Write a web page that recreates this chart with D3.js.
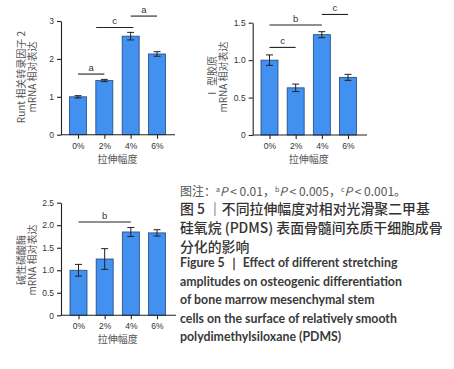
<!DOCTYPE html>
<html>
<head>
<meta charset="utf-8">
<script src="https://cdn.jsdelivr.net/npm/d3@7"></script>
<style>
  body { margin: 0; background: #fff; }
  svg { display: block; }
  .tick text { font-family: "Liberation Sans", Arial, sans-serif; font-size: 8.5px; fill: #333; }
  .tick line, .domain { stroke: #222; stroke-width: 1.1; }
</style>
</head>
<body>
<div id="chart"></div>
<script>
// values
const categories = ["0%", "2%", "4%", "6%"];

const runxMeans = [1.0, 1.43, 2.60, 2.13];
const runxErrors = [0.03, 0.03, 0.10, 0.06];
const runxTicks = [0, 1, 2, 3];
const runxBrackets = [
    {from: 0, to: 1, y: 1.60, label: "a"},
    {from: 0.69, to: 2.1, y: 2.83, label: "c"},
    {from: 2, to: 3, y: 3.13, label: "a"}
];

const col1Means = [1.0, 0.63, 1.34, 0.77];
const col1Errors = [0.07, 0.05, 0.04, 0.04];
const col1Ticks = [0, 0.5, 1.0, 1.5];
const col1Brackets = [
    {from: 0, to: 1, y: 1.17, label: "c"},
    {from: 0, to: 2, y: 1.47, label: "b"},
    {from: 2, to: 3, y: 1.61, label: "c"}
];

const alpMeans = [1.0, 1.25, 1.85, 1.83];
const alpErrors = [0.13, 0.23, 0.10, 0.07];
const alpTicks = [0, 0.5, 1.0, 1.5, 2.0, 2.5];
const alpBrackets = [
    {from: 0, to: 2, y: 2.07, label: "b"}
];

const xTitle = "拉伸幅度";

const captionNote = [
    {t: "图注：", sup: false, it: false},
    {t: "a", sup: true}, {t: "P", it: true}, {t: " < 0.01，"},
    {t: "b", sup: true}, {t: "P", it: true}, {t: " < 0.005，"},
    {t: "c", sup: true}, {t: "P", it: true}, {t: " < 0.001。"}
];
const captionZh = [
    "图 5 ｜不同拉伸幅度对相对光滑聚二甲基",
    "硅氧烷 (PDMS) 表面骨髓间充质干细胞成骨",
    "分化的影响"
];
const captionEn = [
    "Figure 5 ｜ Effect of different stretching",
    "amplitudes on osteogenic differentiation",
    "of bone marrow mesenchymal stem",
    "cells on the surface of relatively smooth",
    "polydimethylsiloxane (PDMS)"
];

const width = 454, height = 369;
const cjk = '"Noto Sans CJK SC", "Noto Sans", sans-serif';

const svg = d3.select("#chart").append("svg")
    .attr("width", width)
    .attr("height", height);

function drawPanel(opts) {
    const g = svg.append("g");

    const x = d3.scalePoint()
        .domain(categories)
        .range([opts.firstX, opts.lastX]);
    const y = d3.scaleLinear()
        .domain([0, opts.max])
        .range([opts.bottom, opts.top]);

    const barW = 17;

    // bars
    g.selectAll("rect.bar")
        .data(opts.means)
        .enter().append("rect")
        .attr("class", "bar")
        .attr("x", (d, i) => x(categories[i]) - barW / 2)
        .attr("y", d => y(d))
        .attr("width", barW)
        .attr("height", d => y(0) - y(d))
        .attr("fill", "#4290ef")
        .attr("stroke", "#23477a")
        .attr("stroke-width", 0.8);

    // error bars (upper and lower whisker)
    const capW = 7;
    const err = g.selectAll("g.err")
        .data(opts.means)
        .enter().append("g")
        .attr("class", "err")
        .attr("stroke", "#222")
        .attr("stroke-width", 1);
    err.append("line")
        .attr("x1", (d, i) => x(categories[i]))
        .attr("x2", (d, i) => x(categories[i]))
        .attr("y1", (d, i) => y(d - opts.errors[i]))
        .attr("y2", (d, i) => y(d + opts.errors[i]));
    err.append("line")
        .attr("x1", (d, i) => x(categories[i]) - capW / 2)
        .attr("x2", (d, i) => x(categories[i]) + capW / 2)
        .attr("y1", (d, i) => y(d + opts.errors[i]))
        .attr("y2", (d, i) => y(d + opts.errors[i]));
    err.append("line")
        .attr("x1", (d, i) => x(categories[i]) - capW / 2)
        .attr("x2", (d, i) => x(categories[i]) + capW / 2)
        .attr("y1", (d, i) => y(d - opts.errors[i]))
        .attr("y2", (d, i) => y(d - opts.errors[i]));

    // y axis
    const yAxis = d3.axisLeft(y)
        .tickValues(opts.ticks)
        .tickSize(4)
        .tickSizeOuter(0)
        .tickPadding(3)
        .tickFormat(opts.fmt);
    g.append("g")
        .attr("transform", `translate(${opts.axisX},0)`)
        .call(yAxis);

    // x axis
    const xAxis = d3.axisBottom(x)
        .tickSize(4)
        .tickPadding(4);
    const xg = g.append("g")
        .attr("transform", `translate(0,${opts.bottom})`)
        .call(xAxis);
    xg.select(".domain").remove();
    xg.append("line")
        .attr("x1", opts.axisX)
        .attr("x2", opts.axisEnd)
        .attr("stroke", "#222")
        .attr("stroke-width", 1.1);

    // x title
    g.append("text")
        .attr("x", (opts.firstX + opts.lastX) / 2)
        .attr("y", opts.bottom + 28)
        .attr("text-anchor", "middle")
        .attr("font-family", cjk)
        .attr("font-size", 10)
        .attr("fill", "#555")
        .text(xTitle);

    // y title (two lines, rotated)
    const yt = g.append("text")
        .attr("transform", `translate(${opts.labelX},${opts.labelY}) rotate(-90)`)
        .attr("text-anchor", "middle")
        .attr("font-family", cjk)
        .attr("font-size", 10)
        .attr("fill", "#555");
    yt.append("tspan").attr("x", 0).attr("dy", 0).text(opts.yTitle[0]);
    yt.append("tspan").attr("x", 0).attr("dy", 11).text(opts.yTitle[1]);

    // significance brackets
    const idx = d3.scaleLinear().domain([0, categories.length - 1]).range([opts.firstX, opts.lastX]);
    const br = g.selectAll("g.br")
        .data(opts.brackets)
        .enter().append("g")
        .attr("class", "br");
    br.append("line")
        .attr("x1", d => idx(d.from))
        .attr("x2", d => idx(d.to))
        .attr("y1", d => y(d.y))
        .attr("y2", d => y(d.y))
        .attr("stroke", "#222")
        .attr("stroke-width", 1.1);
    br.append("text")
        .attr("x", d => (idx(d.from) + idx(d.to)) / 2)
        .attr("y", d => y(d.y) - 3)
        .attr("text-anchor", "middle")
        .attr("font-family", "Liberation Sans, Arial, sans-serif")
        .attr("font-size", 9.5)
        .attr("fill", "#333")
        .text(d => d.label);
}

const fmt1 = d => d === 0 ? "0" : d3.format(".1f")(d);

drawPanel({
    means: runxMeans, errors: runxErrors, ticks: runxTicks, brackets: runxBrackets,
    max: 3, fmt: d3.format("d"),
    axisX: 61, axisEnd: 175, firstX: 78, lastX: 157,
    top: 21, bottom: 134.7,
    labelX: 25, labelY: 77,
    yTitle: ["Runt 相关转录因子 2", "mRNA 相对表达"]
});

drawPanel({
    means: col1Means, errors: col1Errors, ticks: col1Ticks, brackets: col1Brackets,
    max: 1.5, fmt: fmt1,
    axisX: 252.7, axisEnd: 367, firstX: 269.5, lastX: 348,
    top: 22.7, bottom: 135,
    labelX: 216, labelY: 77,
    yTitle: ["Ⅰ 型胶原", "mRNA 相对表达"]
});

drawPanel({
    means: alpMeans, errors: alpErrors, ticks: alpTicks, brackets: alpBrackets,
    max: 2.5, fmt: fmt1,
    axisX: 61, axisEnd: 176, firstX: 78.5, lastX: 157,
    top: 202.7, bottom: 315.3,
    labelX: 25, labelY: 260,
    yTitle: ["碱性磷酸酶", "mRNA 相对表达"]
});

// caption
const cap = svg.append("g").attr("transform", "translate(180,0)");

const note = cap.append("text")
    .attr("x", 0)
    .attr("y", 195.5)
    .attr("font-family", cjk)
    .attr("font-size", 12)
    .attr("fill", "#555");
captionNote.forEach(p => {
    const ts = note.append("tspan").text(p.t);
    if (p.sup) ts.attr("font-size", 7).attr("baseline-shift", "55%");
    if (p.it) ts.attr("font-style", "italic");
});

const zh = cap.selectAll("text.zh")
    .data(captionZh)
    .enter().append("text")
    .attr("class", "zh")
    .attr("x", 0)
    .attr("y", (d, i) => 213.5 + i * 19)
    .attr("font-family", cjk)
    .attr("font-size", 13)
    .attr("font-weight", 500)
    .attr("fill", "#333")
    .text(d => d);

const en = cap.selectAll("text.en")
    .data(captionEn)
    .enter().append("text")
    .attr("class", "en")
    .attr("x", 0)
    .attr("y", (d, i) => 267 + i * 18.5)
    .attr("font-family", "Lato, 'Open Sans', sans-serif")
    .attr("font-size", 12)
    .attr("font-weight", 700)
    .attr("fill", "#3a3a3a")
    .text(d => d);

// fit the caption lines to the widths measured on the figure
const zhW = zh.node().getComputedTextLength();
if (zhW > 0) {
    zh.attr("font-size", 13 * 250 / zhW);
}
const firstW = en.node().getComputedTextLength();
if (firstW > 0) {
    en.attr("font-size", 12 * 218 / firstW);
}
</script>
</body>
</html>
